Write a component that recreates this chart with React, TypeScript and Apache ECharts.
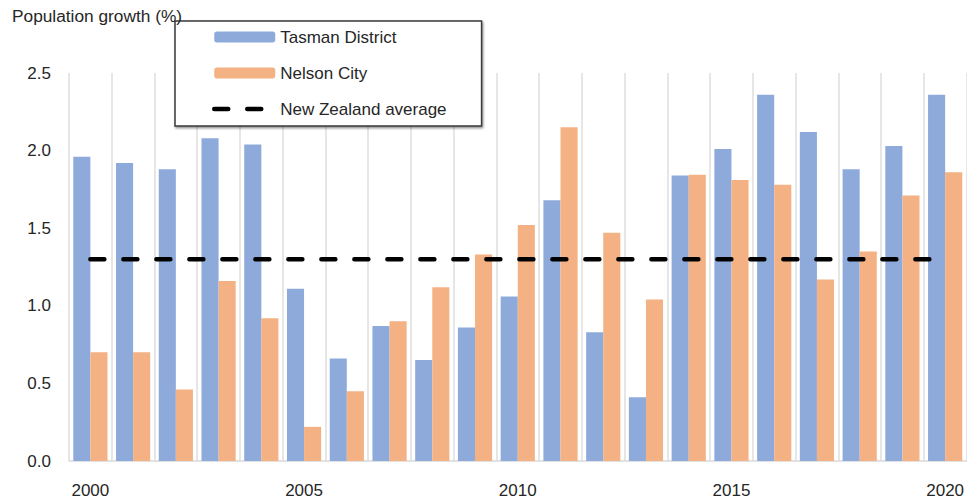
import React, { useEffect, useRef } from "react";
import * as echarts from "echarts";

const years = ["2000","2001","2002","2003","2004","2005","2006","2007","2008","2009","2010","2011","2012","2013","2014","2015","2016","2017","2018","2019","2020"];
const tasman = [1.96,1.92,1.88,2.08,2.04,1.11,0.66,0.87,0.65,0.86,1.06,1.68,0.83,0.41,1.84,2.01,2.36,2.12,1.88,2.03,2.36];
const nelson = [0.70,0.70,0.46,1.16,0.92,0.22,0.45,0.90,1.12,1.33,1.52,2.15,1.47,1.04,1.845,1.81,1.78,1.17,1.35,1.71,1.86];
const nzAverage = [1.3,1.3,1.3,1.3,1.3,1.3,1.3,1.3,1.3,1.3,1.3,1.3,1.3,1.3,1.3,1.3,1.3,1.3,1.3,1.3,1.3];
const seriesNames = ["Tasman District", "Nelson City", "New Zealand average"];
const yAxisTitle = "Population growth (%)";

const FONT = "'Liberation Sans', Arial, sans-serif";
const TEXT = "#262626";
const DASH = { color: "#000000", width: 4.5, type: [14, 19], cap: "round" };

export default function App() {
  const ref = useRef<HTMLDivElement>(null);
  useEffect(() => {
    if (!ref.current) return;
    const chart = echarts.init(ref.current, undefined, { renderer: "svg" });
    chart.setOption({
      animation: false,
      backgroundColor: "#ffffff",
      textStyle: { fontFamily: FONT },
      title: {
        text: yAxisTitle,
        left: 12,
        top: 7,
        padding: 0,
        textStyle: { fontFamily: FONT, fontSize: 17.3, fontWeight: "normal", color: TEXT },
      },
      legend: {
        orient: "vertical",
        left: 175,
        top: 21,
        padding: [7, 35, 8, 37],
        itemWidth: 61,
        itemHeight: 11,
        itemGap: 18,
        backgroundColor: "#ffffff",
        borderColor: "#3a3a3a",
        borderWidth: 1.5,
        shadowColor: "rgba(0,0,0,0.45)",
        shadowBlur: 2,
        shadowOffsetX: 1,
        shadowOffsetY: 1.5,
        textStyle: { fontFamily: FONT, fontSize: 17, color: TEXT, lineHeight: 18 },
        data: [
          { name: seriesNames[0] },
          { name: seriesNames[1] },
          { name: seriesNames[2], itemStyle: { opacity: 0 }, lineStyle: DASH },
        ],
      },
      grid: { left: 69, top: 73, width: 900, height: 388, containLabel: false },
      xAxis: {
        type: "category",
        data: years,
        boundaryGap: true,
        axisLine: { show: true, lineStyle: { color: "#d9d9d9", width: 1.5 } },
        axisTick: { show: false },
        axisLabel: {
          interval: 4,
          margin: 21,
          fontFamily: FONT,
          fontSize: 17,
          color: TEXT,
        },
        splitLine: { show: true, interval: 0, lineStyle: { color: "#dedede", width: 1.5 } },
      },
      yAxis: {
        type: "value",
        min: 0,
        max: 2.5,
        interval: 0.5,
        axisLine: { show: false },
        axisTick: { show: false },
        splitLine: { show: false },
        axisLabel: {
          margin: 18,
          fontFamily: FONT,
          fontSize: 17,
          color: TEXT,
          formatter: (v: number) => v.toFixed(1),
        },
      },
      series: [
        {
          name: seriesNames[0],
          type: "bar",
          data: tasman,
          barGap: "0%",
          barCategoryGap: "20%",
          itemStyle: { color: "#8eaadb" },
        },
        {
          name: seriesNames[1],
          type: "bar",
          data: nelson,
          barGap: "0%",
          barCategoryGap: "20%",
          itemStyle: { color: "#f4b183" },
        },
        {
          name: seriesNames[2],
          type: "line",
          data: nzAverage,
          symbol: "none",
          z: 3,
          lineStyle: DASH,
          itemStyle: { color: "#000000" },
        },
      ],
    });
    return () => chart.dispose();
  }, []);
  return (
    <div
      ref={ref}
      style={{ position: "fixed", left: 0, top: 0, width: 967, height: 501 }}
    />
  );
}
